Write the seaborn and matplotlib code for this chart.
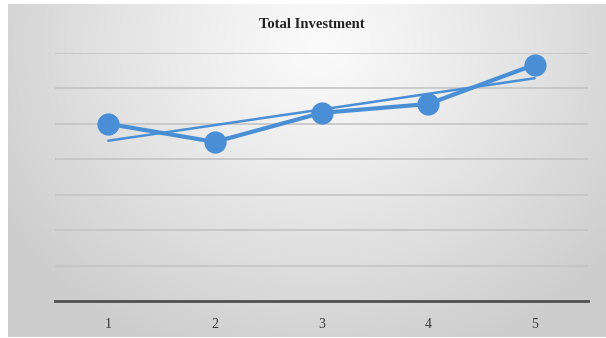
import numpy as np
import pandas as pd
import matplotlib
matplotlib.use("Agg")
import matplotlib.pyplot as plt
import seaborn as sns

periods = [1, 2, 3, 4, 5]
investment = [5.0, 4.49, 5.31, 5.56, 6.67]
title = "Total Investment"

sns.set_theme(style="white")
plt.rcParams['font.family'] = ['Liberation Serif', 'DejaVu Serif']

df = pd.DataFrame({"period": periods, "investment": investment})

fig = plt.figure(figsize=(6.06, 3.38), dpi=100)
fig.patch.set_facecolor("white")

# background gradient panel
bg = fig.add_axes([8/606, 1/338, 598/606, 333/338])
bg.set_axis_off()
h, w = 333, 598
yy, xx = np.mgrid[0:h, 0:w]
cx, cy = 0.52 * w, 0.12 * h
d = np.sqrt(((xx - cx) / (0.62 * w)) ** 2 + ((yy - cy) / (1.0 * h)) ** 2)
d = np.clip(d, 0, 1)
val = 0.985 - 0.18 * d ** 1.1
img = np.dstack([val, val, val])
bg.imshow(img, aspect="auto", extent=[0, 1, 0, 1], zorder=0)
bg.set_xlim(0, 1)
bg.set_ylim(0, 1)

ax = fig.add_axes([55/606, (338-301)/338, (588-55)/606, (301-53)/338])
ax.patch.set_alpha(0)
blue = "#4a8fd6"

sns.regplot(data=df, x="period", y="investment", ax=ax, scatter=False, ci=None,
            truncate=True, line_kws=dict(color=blue, lw=1.8, zorder=3))
sns.lineplot(data=df, x="period", y="investment", ax=ax, color=blue, lw=3,
             marker="o", markersize=16, markeredgewidth=0, zorder=4)

ax.set_xlim(0.5, 5.5)
ax.set_ylim(0, 7)
ax.set_yticks(np.arange(0, 8, 1))
ax.set_yticklabels([])
ax.tick_params(axis="y", length=0)
ax.grid(axis="y", color="#c4c4c4", lw=1.2)
ax.set_axisbelow(True)
ax.set_xticks(periods)
ax.set_xticklabels([str(p) for p in periods], fontsize=10, color="#3a3a3a")
ax.tick_params(axis="x", length=0, pad=12)
for s in ["left", "right", "top"]:
    ax.spines[s].set_visible(False)
ax.spines["bottom"].set_color("#505050")
ax.spines["bottom"].set_linewidth(2)
ax.set_xlabel("")
ax.set_ylabel("")

fig.text(312/606, 1 - 25/338, title, ha="center", va="center",
         fontsize=10.5, fontweight="bold", color="#222222")

fig.savefig("out.png", dpi=100)
